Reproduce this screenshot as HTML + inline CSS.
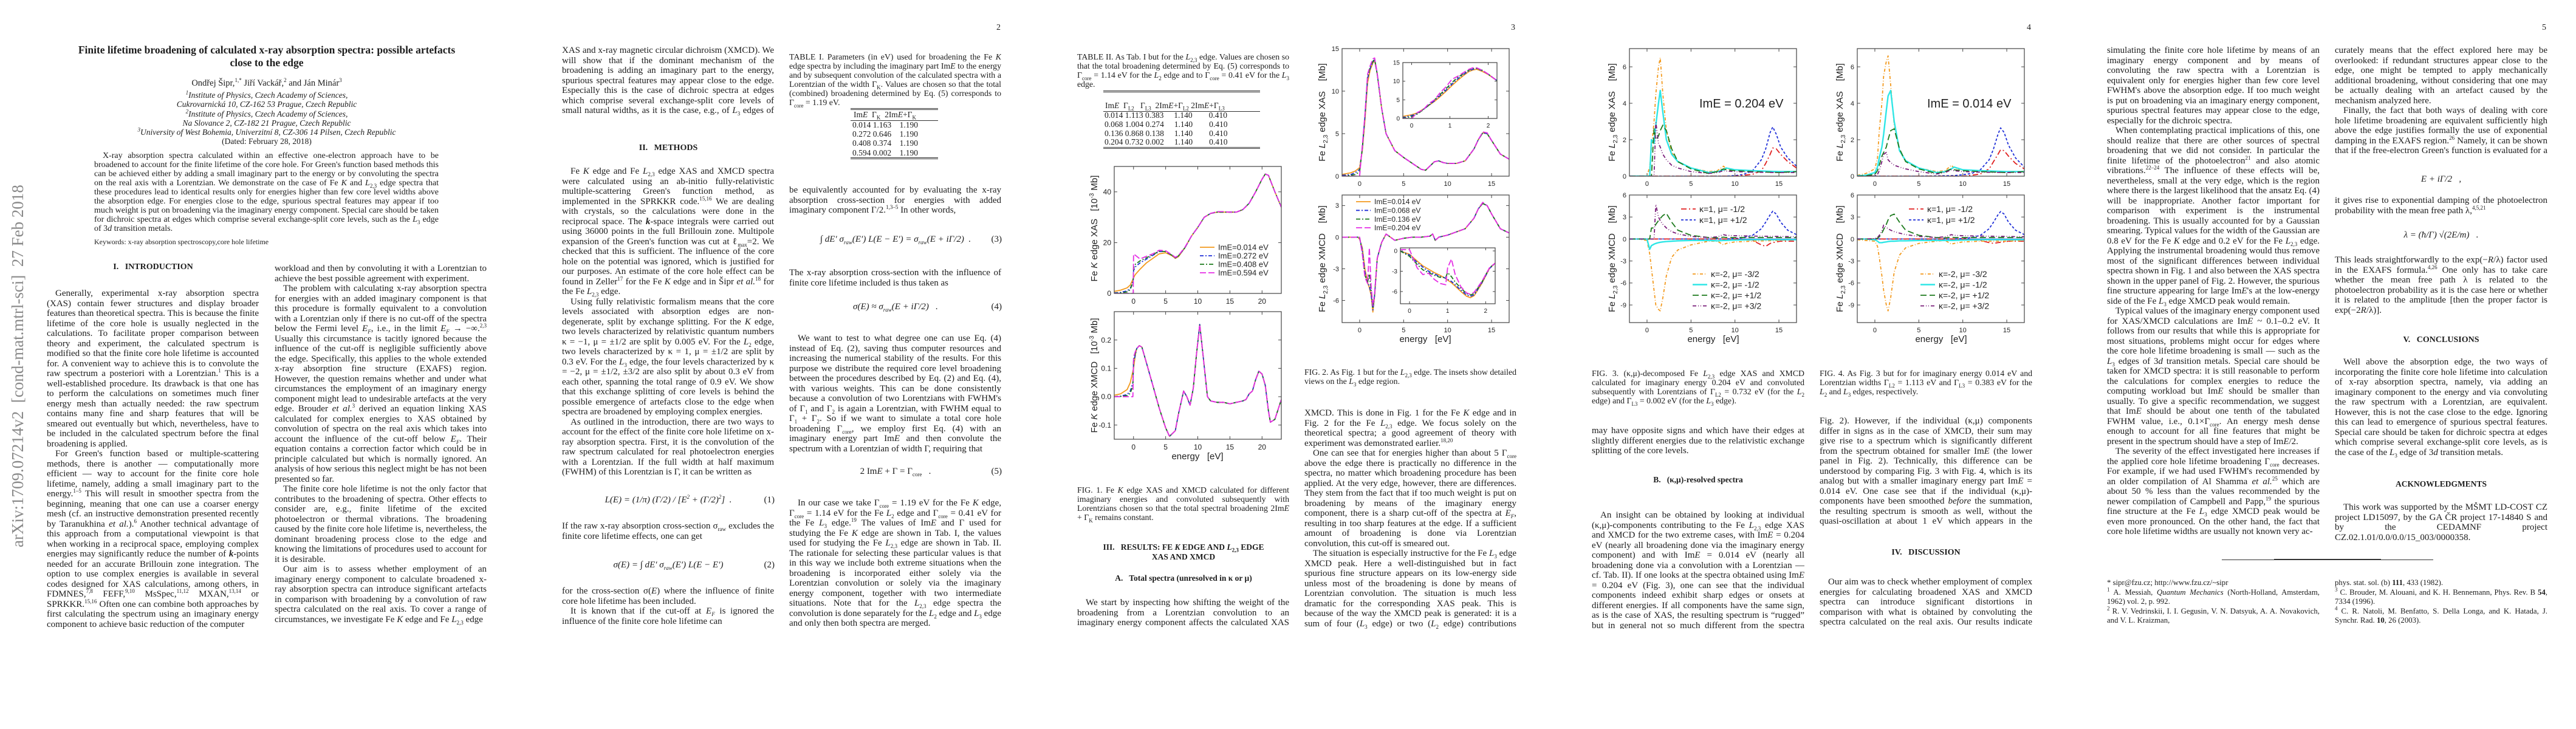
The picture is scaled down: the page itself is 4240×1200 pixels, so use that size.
<!DOCTYPE html>
<html lang="en"><head><meta charset="utf-8">
<style>
html,body{margin:0;padding:0;background:#fff;}
body{width:4240px;height:1200px;position:relative;overflow:hidden;font-family:"Liberation Serif",serif;color:#1c1c1c;}
.a{position:absolute;}
.t{position:absolute;font-size:15px;line-height:16.5px;text-align:justify;hyphens:auto;overflow:hidden;}
.t p{margin:0;text-indent:14px;}
.t p.ni{text-indent:0;}
.cap{position:absolute;font-size:13.8px;line-height:15px;text-align:justify;hyphens:auto;overflow:hidden;}
.h{position:absolute;font-weight:bold;font-size:14px;text-align:center;width:350px;}
.pn{position:absolute;top:38px;font-size:14px;}
.eq{position:absolute;width:350px;font-size:15px;text-align:center;font-style:italic;}
.eqn{position:absolute;right:0;font-style:normal;}
sup{font-size:9px;line-height:0;}
sub{font-size:9px;line-height:0;}
.tbl{position:absolute;font-size:13.5px;}
.dr{position:absolute;height:1px;border-top:1px solid #333;border-bottom:1px solid #333;}
.sr{position:absolute;height:0;border-top:1px solid #333;}
.row{position:absolute;white-space:pre;}
svg text{font-family:"Liberation Sans",sans-serif;fill:#222;}
</style></head><body>

<!-- PAGE 1 -->
<div class="a" style="left:14px;top:290px;width:40px;height:625px;writing-mode:vertical-rl;transform:rotate(180deg);font-size:27px;color:#8a8a8a;white-space:nowrap;text-align:center;">arXiv:1709.07214v2&nbsp; [cond-mat.mtrl-sci]&nbsp; 27 Feb 2018</div>
<div class="a" style="left:39px;top:72px;width:800px;text-align:center;font-weight:bold;font-size:17.5px;line-height:21px;">Finite lifetime broadening of calculated x-ray absorption spectra: possible artefacts<br>close to the edge</div>
<div class="a" style="left:39px;top:129px;width:800px;text-align:center;font-size:14.5px;">Ondřej Šipr,<sup>1,*</sup> Jiří Vackář,<sup>2</sup> and Ján Minár<sup>3</sup></div>
<div class="a" style="left:39px;top:149px;width:800px;text-align:center;font-size:13.5px;line-height:15.3px;font-style:italic;"><sup>1</sup>Institute of Physics, Czech Academy of Sciences,<br>Cukrovarnická 10, CZ-162 53 Prague, Czech Republic<br><sup>2</sup>Institute of Physics, Czech Academy of Sciences,<br>Na Slovance 2, CZ-182 21 Prague, Czech Republic<br><sup>3</sup>University of West Bohemia, Univerzitní 8, CZ-306 14 Pilsen, Czech Republic<br><span style="font-style:normal">(Dated: February 28, 2018)</span></div>
<div class="a" style="left:155px;top:249px;width:567px;height:136px;font-size:14px;line-height:15px;text-align:justify;text-indent:14px;overflow:hidden;">X-ray absorption spectra calculated within an effective one-electron approach have to be broadened to account for the finite lifetime of the core hole. For Green's function based methods this can be achieved either by adding a small imaginary part to the energy or by convoluting the spectra on the real axis with a Lorentzian. We demonstrate on the case of Fe <i>K</i> and <i>L</i><sub>2,3</sub> edge spectra that these procedures lead to identical results only for energies higher than few core level widths above the absorption edge. For energies close to the edge, spurious spectral features may appear if too much weight is put on broadening via the imaginary energy component. Special care should be taken for dichroic spectra at edges which comprise several exchange-split core levels, such as the <i>L</i><sub>3</sub> edge of 3<i>d</i> transition metals.</div>
<div class="a" style="left:155px;top:391px;font-size:12px;">Keywords: x-ray absorption spectroscopy,core hole lifetime</div>
<div class="h" style="left:77px;top:432px;">I.&nbsp;&nbsp; INTRODUCTION</div>
<div class="t" style="left:77px;top:475px;width:349px;height:561px;">
<p>Generally, experimental x-ray absorption spectra (XAS) contain fewer structures and display broader features than theoretical spectra. This is because the finite lifetime of the core hole is usually neglected in the calculations. To facilitate proper comparison between theory and experiment, the calculated spectrum is modified so that the finite core hole lifetime is accounted for. A convenient way to achieve this is to convolute the raw spectrum a posteriori with a Lorentzian.<sup>1</sup> This is a well-established procedure. Its drawback is that one has to perform the calculations on sometimes much finer energy mesh than actually needed: the raw spectrum contains many fine and sharp features that will be smeared out eventually but which, nevertheless, have to be included in the calculated spectrum before the final broadening is applied.</p>
<p>For Green's function based or multiple-scattering methods, there is another — computationally more efficient — way to account for the finite core hole lifetime, namely, adding a small imaginary part to the energy.<sup>1–5</sup> This will result in smoother spectra from the beginning, meaning that one can use a coarser energy mesh (cf. an instructive demonstration presented recently by Taranukhina <i>et al.</i>).<sup>6</sup> Another technical advantage of this approach from a computational viewpoint is that when working in a reciprocal space, employing complex energies may significantly reduce the number of <b><i>k</i></b>-points needed for an accurate Brillouin zone integration. The option to use complex energies is available in several codes designed for XAS calculations, among others, in FDMNES,<sup>7,8</sup> FEFF,<sup>9,10</sup> MsSpec,<sup>11,12</sup> MXAN,<sup>13,14</sup> or SPRKKR.<sup>15,16</sup> Often one can combine both approaches by first calculating the spectrum using an imaginary energy component to achieve basic reduction of the computer</p></div>
<div class="t" style="left:452px;top:434px;width:349px;height:611px;">
<p class="ni">workload and then by convoluting it with a Lorentzian to achieve the best possible agreement with experiment.</p>
<p>The problem with calculating x-ray absorption spectra for energies with an added imaginary component is that this procedure is formally equivalent to a convolution with a Lorentzian only if there is no cut-off of the spectra below the Fermi level <i>E<sub>F</sub></i>, i.e., in the limit <i>E<sub>F</sub></i> → −∞.<sup>2,3</sup> Usually this circumstance is tacitly ignored because the influence of the cut-off is negligible sufficiently above the edge. Specifically, this applies to the whole extended x-ray absorption fine structure (EXAFS) region. However, the question remains whether and under what circumstances the employment of an imaginary energy component might lead to undesirable artefacts at the very edge. Brouder <i>et al.</i><sup>3</sup> derived an equation linking XAS calculated for complex energies to XAS obtained by convolution of spectra on the real axis which takes into account the influence of the cut-off below <i>E<sub>F</sub></i>. Their equation contains a correction factor which could be in principle calculated but which is normally ignored. An analysis of how serious this neglect might be has not been presented so far.</p>
<p>The finite core hole lifetime is not the only factor that contributes to the broadening of spectra. Other effects to consider are, e.g., finite lifetime of the excited photoelectron or thermal vibrations. The broadening caused by the finite core hole lifetime is, nevertheless, the dominant broadening process close to the edge and knowing the limitations of procedures used to account for it is desirable.</p>
<p>Our aim is to assess whether employment of an imaginary energy component to calculate broadened x-ray absorption spectra can introduce significant artefacts in comparison with broadening by a convolution of raw spectra calculated on the real axis. To cover a range of circumstances, we investigate Fe <i>K</i> edge and Fe <i>L</i><sub>2,3</sub> edge</p></div>

<!-- PAGE 2 -->
<div class="pn" style="left:1640px;">2</div>
<div class="t" style="left:925px;top:75px;width:349px;height:116px;">
<p class="ni">XAS and x-ray magnetic circular dichroism (XMCD). We will show that if the dominant mechanism of the broadening is adding an imaginary part to the energy, spurious spectral features may appear close to the edge. Especially this is the case of dichroic spectra at edges which comprise several exchange-split core levels of small natural widths, as it is the case, e.g., of <i>L</i><sub>3</sub> edges of 3<i>d</i> transition metals.</p></div>
<div class="h" style="left:925px;top:236px;">II.&nbsp;&nbsp; METHODS</div>
<div class="t" style="left:925px;top:274px;width:349px;height:512px;">
<p>Fe <i>K</i> edge and Fe <i>L</i><sub>2,3</sub> edge XAS and XMCD spectra were calculated using an ab-initio fully-relativistic multiple-scattering Green's function method, as implemented in the SPRKKR code.<sup>15,16</sup> We are dealing with crystals, so the calculations were done in the reciprocal space. The <b><i>k</i></b>-space integrals were carried out using 36000 points in the full Brillouin zone. Multipole expansion of the Green's function was cut at ℓ<sub>max</sub>=2. We checked that this is sufficient. The influence of the core hole on the potential was ignored, which is justified for our purposes. An estimate of the core hole effect can be found in Zeller<sup>17</sup> for the Fe <i>K</i> edge and in Šipr <i>et al.</i><sup>18</sup> for the Fe <i>L</i><sub>2,3</sub> edge.</p>
<p>Using fully relativistic formalism means that the core levels associated with absorption edges are non-degenerate, split by exchange splitting. For the <i>K</i> edge, two levels characterized by relativistic quantum numbers κ = −1, μ = ±1/2 are split by 0.005 eV. For the <i>L</i><sub>2</sub> edge, two levels characterized by κ = 1, μ = ±1/2 are split by 0.3 eV. For the <i>L</i><sub>3</sub> edge, the four levels characterized by κ = −2, μ = ±1/2, ±3/2 are also split by about 0.3 eV from each other, spanning the total range of 0.9 eV. We show that this exchange splitting of core levels is behind the possible emergence of artefacts close to the edge when spectra are broadened by employing complex energies.</p>
<p>As outlined in the introduction, there are two ways to account for the effect of the finite core hole lifetime on x-ray absorption spectra. First, it is the convolution of the raw spectrum calculated for real photoelectron energies with a Lorentzian. If the full width at half maximum (FWHM) of this Lorentzian is Γ, it can be written as</p></div>
<div class="eq" style="left:925px;top:815px;"><i>L</i>(<i>E</i>) = (1/π) (Γ/2) / [<i>E</i><sup>2</sup> + (Γ/2)<sup>2</sup>]&nbsp;&nbsp;. <span class="eqn">(1)</span></div>
<div class="t" style="left:925px;top:858px;width:349px;height:33px;">
<p class="ni">If the raw x-ray absorption cross-section σ<sub>raw</sub> excludes the finite core lifetime effects, one can get</p></div>
<div class="eq" style="left:925px;top:922px;">σ(<i>E</i>) = ∫ d<i>E</i>′ σ<sub>raw</sub>(<i>E</i>′) <i>L</i>(<i>E</i> − <i>E</i>′) <span class="eqn">(2)</span></div>
<div class="t" style="left:925px;top:965px;width:349px;height:67px;">
<p class="ni">for the cross-section σ(<i>E</i>) where the influence of finite core hole lifetime has been included.</p>
<p>It is known that if the cut-off at <i>E<sub>F</sub></i> is ignored the influence of the finite core hole lifetime can</p></div>

<div class="cap" style="left:1299px;top:86px;width:349px;height:92px;">TABLE I. Parameters (in eV) used for broadening the Fe <i>K</i> edge spectra by including the imaginary part Im<i>E</i> to the energy and by subsequent convolution of the calculated spectra with a Lorentzian of the width Γ<sub>K</sub>. Values are chosen so that the total (combined) broadening determined by Eq. (5) corresponds to Γ<sub>core</sub> = 1.19 eV.</div>
<div class="tbl" style="left:1400px;top:0;">
<div class="dr" style="left:0;top:178px;width:144px;"></div>
<div class="row" style="left:5px;top:181px;">Im<i>E</i>  Γ<sub>K</sub>  2Im<i>E</i>+Γ<sub>K</sub></div>
<div class="sr" style="left:0;top:198px;width:144px;"></div>
<div class="row" style="left:3px;top:198px;line-height:15.2px;">0.014 1.163    1.190
0.272 0.646    1.190
0.408 0.374    1.190
0.594 0.002    1.190</div>
<div class="dr" style="left:0;top:259px;width:144px;"></div></div>
<div class="t" style="left:1299px;top:305px;width:349px;height:50px;">
<p class="ni">be equivalently accounted for by evaluating the x-ray absorption cross-section for energies with added imaginary component Γ/2.<sup>1,3–5</sup> In other words,</p></div>
<div class="eq" style="left:1299px;top:386px;">∫ d<i>E</i>′ σ<sub>raw</sub>(<i>E</i>′) <i>L</i>(<i>E</i> − <i>E</i>′) = σ<sub>raw</sub>(<i>E</i> + iΓ/2)&nbsp; . <span class="eqn">(3)</span></div>
<div class="t" style="left:1299px;top:441px;width:349px;height:33px;">
<p class="ni">The x-ray absorption cross-section with the influence of finite core lifetime included is thus taken as</p></div>
<div class="eq" style="left:1299px;top:497px;">σ(<i>E</i>) ≈ σ<sub>raw</sub>(<i>E</i> + iΓ/2)&nbsp;&nbsp; . <span class="eqn">(4)</span></div>
<div class="t" style="left:1299px;top:549px;width:349px;height:198px;">
<p>We want to test to what degree one can use Eq. (4) instead of Eq. (2), saving thus computer resources and increasing the numerical stability of the results. For this purpose we distribute the required core level broadening between the procedures described by Eq. (2) and Eq. (4), with various weights. This can be done consistently because a convolution of two Lorentzians with FWHM's of Γ<sub>1</sub> and Γ<sub>2</sub> is again a Lorentzian, with FWHM equal to Γ<sub>1</sub> + Γ<sub>2</sub>. So if we want to simulate a total core hole broadening Γ<sub>core</sub>, we employ first Eq. (4) with an imaginary energy part Im<i>E</i> and then convolute the spectrum with a Lorentzian of width Γ, requiring that</p></div>
<div class="eq" style="left:1299px;top:768px;font-style:normal;">2 Im<i>E</i> + Γ = Γ<sub>core</sub>&nbsp;&nbsp; . <span class="eqn">(5)</span></div>
<div class="t" style="left:1299px;top:820px;width:349px;height:215px;">
<p>In our case we take Γ<sub>core</sub> = 1.19 eV for the Fe <i>K</i> edge, Γ<sub>core</sub> = 1.14 eV for the Fe <i>L</i><sub>2</sub> edge and Γ<sub>core</sub> = 0.41 eV for the Fe <i>L</i><sub>3</sub> edge.<sup>19</sup> The values of Im<i>E</i> and Γ used for studying the Fe <i>K</i> edge are shown in Tab. I, the values used for studying the Fe <i>L</i><sub>2,3</sub> edge are shown in Tab. II. The rationale for selecting these particular values is that in this way we include both extreme situations when the broadening is incorporated either solely via the Lorentzian convolution or solely via the imaginary energy component, together with two intermediate situations. Note that for the <i>L</i><sub>2,3</sub> edge spectra the convolution is done separately for the <i>L</i><sub>2</sub> edge and <i>L</i><sub>3</sub> edge and only then both spectra are merged.</p></div>

<!-- PAGE 3 -->
<div class="pn" style="left:2487px;">3</div>
<div class="cap" style="left:1773px;top:86px;width:349px;height:62px;">TABLE II. As Tab. I but for the <i>L</i><sub>2,3</sub> edge. Values are chosen so that the total broadening determined by Eq. (5) corresponds to Γ<sub>core</sub> = 1.14 eV for the <i>L</i><sub>2</sub> edge and to Γ<sub>core</sub> = 0.41 eV for the <i>L</i><sub>3</sub> edge.</div>
<div class="tbl" style="left:1816px;top:0;">
<div class="dr" style="left:0;top:149px;width:258px;"></div>
<div class="row" style="left:3px;top:166px;">Im<i>E</i>  Γ<sub>L2</sub>   Γ<sub>L3</sub>  2Im<i>E</i>+Γ<sub>L2</sub> 2Im<i>E</i>+Γ<sub>L3</sub></div>
<div class="sr" style="left:0;top:183px;width:258px;"></div>
<div class="row" style="left:2px;top:183px;line-height:14.8px;">0.014 1.113 0.383     1.140        0.410
0.068 1.004 0.274     1.140        0.410
0.136 0.868 0.138     1.140        0.410
0.204 0.732 0.002     1.140        0.410</div>
<div class="dr" style="left:0;top:242px;width:258px;"></div></div>
<div class="cap" style="left:1773px;top:799px;width:349px;height:62px;">FIG. 1. Fe <i>K</i> edge XAS and XMCD calculated for different imaginary energies and convoluted subsequently with Lorentzians chosen so that the total spectral broadening 2Im<i>E</i> + Γ<sub>K</sub> remains constant.</div>
<div class="h" style="left:1773px;top:893px;font-size:13.5px;line-height:16px;">III.&nbsp;&nbsp; RESULTS: FE <i>K</i> EDGE AND <i>L</i><sub>2,3</sub> EDGE<br>XAS AND XMCD</div>
<div class="h" style="left:1773px;top:944px;font-size:13.5px;">A.&nbsp;&nbsp; Total spectra (unresolved in κ or μ)</div>
<div class="t" style="left:1773px;top:984px;width:349px;height:50px;">
<p>We start by inspecting how shifting the weight of the broadening from a Lorentzian convolution to an imaginary energy component affects the calculated XAS and</p></div>
<div class="cap" style="left:2147px;top:605px;width:349px;height:31px;">FIG. 2. As Fig. 1 but for the <i>L</i><sub>2,3</sub> edge. The insets show detailed views on the <i>L</i><sub>3</sub> edge region.</div>
<div class="t" style="left:2147px;top:672px;width:349px;height:363px;">
<p class="ni">XMCD. This is done in Fig. 1 for the Fe <i>K</i> edge and in Fig. 2 for the Fe <i>L</i><sub>2,3</sub> edge. We focus solely on the theoretical spectra; a good agreement of theory with experiment was demonstrated earlier.<sup>18,20</sup></p>
<p>One can see that for energies higher than about 5 Γ<sub>core</sub> above the edge there is practically no difference in the spectra, no matter which broadening procedure has been applied. At the very edge, however, there are differences. They stem from the fact that if too much weight is put on broadening by means of the imaginary energy component, there is a sharp cut-off of the spectra at <i>E<sub>F</sub></i>, resulting in too sharp features at the edge. If a sufficient amount of broadening is done via Lorentzian convolution, this cut-off is smeared out.</p>
<p>The situation is especially instructive for the Fe <i>L</i><sub>3</sub> edge XMCD peak. Here a well-distinguished but in fact spurious fine structure appears on its low-energy side unless most of the broadening is done by means of Lorentzian convolution. The situation is much less dramatic for the corresponding XAS peak. This is because of the way the XMCD peak is generated: it is a sum of four (<i>L</i><sub>3</sub> edge) or two (<i>L</i><sub>2</sub> edge) contributions which</p></div>

<!-- PAGE 4 -->
<div class="pn" style="left:3336px;">4</div>
<div class="cap" style="left:2620px;top:607px;width:350px;height:62px;">FIG. 3. (κ,μ)-decomposed Fe <i>L</i><sub>2,3</sub> edge XAS and XMCD calculated for imaginary energy 0.204 eV and convoluted subsequently with Lorentzians of Γ<sub>L2</sub> = 0.732 eV (for the <i>L</i><sub>2</sub> edge) and Γ<sub>L3</sub> = 0.002 eV (for the <i>L</i><sub>3</sub> edge).</div>
<div class="t" style="left:2620px;top:701px;width:350px;height:50px;">
<p class="ni">may have opposite signs and which have their edges at slightly different energies due to the relativistic exchange splitting of the core levels.</p></div>
<div class="h" style="left:2620px;top:782px;font-size:13.5px;">B.&nbsp;&nbsp; (κ,μ)-resolved spectra</div>
<div class="t" style="left:2620px;top:840px;width:350px;height:195px;">
<p>An insight can be obtained by looking at individual (κ,μ)-components contributing to the Fe <i>L</i><sub>2,3</sub> edge XAS and XMCD for the two extreme cases, with Im<i>E</i> = 0.204 eV (nearly all broadening done via the imaginary energy component) and with Im<i>E</i> = 0.014 eV (nearly all broadening done via a convolution with a Lorentzian — cf. Tab. II). If one looks at the spectra obtained using Im<i>E</i> = 0.204 eV (Fig. 3), one can see that the individual components indeed exhibit sharp edges or onsets at different energies. If all components have the same sign, as is the case of XAS, the resulting spectrum is “rugged” but in general not so much different from the spectra obtained for smaller Im<i>E</i> (see the upper panel in</p></div>
<div class="cap" style="left:2995px;top:607px;width:350px;height:47px;">FIG. 4. As Fig. 3 but for for imaginary energy 0.014 eV and Lorentzian widths Γ<sub>L2</sub> = 1.113 eV and Γ<sub>L3</sub> = 0.383 eV for the <i>L</i><sub>2</sub> and <i>L</i><sub>3</sub> edges, respectively.</div>
<div class="t" style="left:2995px;top:685px;width:350px;height:182px;">
<p class="ni">Fig. 2). However, if the individual (κ,μ) components differ in signs as in the case of XMCD, their sum may give rise to a spectrum which is significantly different from the spectrum obtained for smaller Im<i>E</i> (the lower panel in Fig. 2). Technically, this difference can be understood by comparing Fig. 3 with Fig. 4, which is its analog but with a smaller imaginary energy part Im<i>E</i> = 0.014 eV. One case see that if the individual (κ,μ)-components have been smoothed <i>before</i> the summation, the resulting spectrum is smooth as well, without the quasi-oscillation at about 1 eV which appears in the XMCD spectrum for larger Im<i>E</i>'s (cf. Fig. 2).</p></div>
<div class="h" style="left:2995px;top:902px;">IV.&nbsp;&nbsp; DISCUSSION</div>
<div class="t" style="left:2995px;top:950px;width:350px;height:85px;">
<p>Our aim was to check whether employment of complex energies for calculating broadened XAS and XMCD spectra can introduce significant distortions in comparison with what is obtained by convoluting the spectra calculated on the real axis. Our results indicate that</p></div>

<!-- PAGE 5 -->
<div class="pn" style="left:4184px;">5</div>
<div class="t" style="left:3468px;top:75px;width:350px;height:819px;">
<p class="ni">simulating the finite core hole lifetime by means of an imaginary energy component and by means of convoluting the raw spectra with a Lorentzian is equivalent only for energies higher than few core level FWHM's above the absorption edge. If too much weight is put on broadening via an imaginary energy component, spurious spectral features may appear close to the edge, especially for the dichroic spectra.</p>
<p>When contemplating practical implications of this, one should realize that there are other sources of spectral broadening that we did not consider. In particular the finite lifetime of the photoelectron<sup>21</sup> and also atomic vibrations.<sup>22–24</sup> The influence of these effects will be, nevertheless, small at the very edge, which is the region where there is the largest likelihood that the ansatz Eq. (4) will be inappropriate. Another factor important for comparison with experiment is the instrumental broadening. This is usually accounted for by a Gaussian smearing. Typical values for the width of the Gaussian are 0.8 eV for the Fe <i>K</i> edge and 0.2 eV for the Fe <i>L</i><sub>2,3</sub> edge. Applying the instrumental broadening would thus remove most of the significant differences between individual spectra shown in Fig. 1 and also between the XAS spectra shown in the upper panel of Fig. 2. However, the spurious fine structure appearing for large Im<i>E</i>'s at the low-energy side of the Fe <i>L</i><sub>3</sub> edge XMCD peak would remain.</p>
<p>Typical values of the imaginary energy component used for XAS/XMCD calculations are Im<i>E</i> ~ 0.1–0.2 eV. It follows from our results that while this is appropriate for most situations, problems might occur for edges where the core hole lifetime broadening is small — such as the <i>L</i><sub>3</sub> edges of 3<i>d</i> transition metals. Special care should be taken for XMCD spectra: it is still reasonable to perform the calculations for complex energies to reduce the computing workload but Im<i>E</i> should be smaller than usually. To give a specific recommendation, we suggest that Im<i>E</i> should be about one tenth of the tabulated FWHM value, i.e., 0.1×Γ<sub>core</sub>. An energy mesh dense enough to account for all fine features that might be present in the spectrum should have a step of Im<i>E</i>/2.</p>
<p>The severity of the effect investigated here increases if the applied core hole lifetime broadening Γ<sub>core</sub> decreases. For example, if we had used FWHM's recommended by an older compilation of Al Shamma <i>et al.</i><sup>25</sup> which are about 50 % less than the values recommended by the newer compilation of Campbell and Papp,<sup>19</sup> the spurious fine structure at the Fe <i>L</i><sub>3</sub> edge XMCD peak would be even more pronounced. On the other hand, the fact that core hole lifetime widths are usually not known very ac-</p></div>
<div class="t" style="left:3843px;top:75px;width:350px;height:182px;">
<p class="ni">curately means that the effect explored here may be overlooked: if redundant structures appear close to the edge, one might be tempted to apply mechanically additional broadening, without considering that one may be actually dealing with an artefact caused by the mechanism analyzed here.</p>
<p>Finally, the fact that both ways of dealing with core hole lifetime broadening are equivalent sufficiently high above the edge justifies formally the use of exponential damping in the EXAFS region.<sup>26</sup> Namely, it can be shown that if the free-electron Green's function is evaluated for a complex energy</p></div>
<div class="eq" style="left:3843px;top:287px;"><i>E</i> + iΓ/2&nbsp;&nbsp; ,</div>
<div class="t" style="left:3843px;top:322px;width:350px;height:33px;">
<p class="ni">it gives rise to exponential damping of the photoelectron probability with the mean free path λ,<sup>4,5,21</sup></p></div>
<div class="eq" style="left:3843px;top:379px;">λ = (ħ/Γ) √(2<i>E</i>/<i>m</i>)&nbsp;&nbsp; .</div>
<div class="t" style="left:3843px;top:420px;width:350px;height:100px;">
<p class="ni">This leads straightforwardly to the exp(−<i>R</i>/λ) factor used in the EXAFS formula.<sup>4,26</sup> One only has to take care whether the mean free path λ is related to the photoelectron probability as it is the case here or whether it is related to the amplitude [then the proper factor is exp(−2<i>R</i>/λ)].</p></div>
<div class="h" style="left:3843px;top:552px;">V.&nbsp;&nbsp; CONCLUSIONS</div>
<div class="t" style="left:3843px;top:588px;width:350px;height:166px;">
<p>Well above the absorption edge, the two ways of incorporating the finite core hole lifetime into calculation of x-ray absorption spectra, namely, via adding an imaginary component to the energy and via convoluting the raw spectrum with a Lorentzian, are equivalent. However, this is not the case close to the edge. Ignoring this can lead to emergence of spurious spectral features. Special care should be taken for dichroic spectra at edges which comprise several exchange-split core levels, as is the case of the <i>L</i><sub>3</sub> edge of 3<i>d</i> transition metals.</p></div>
<div class="h" style="left:3843px;top:789px;font-size:13.5px;">ACKNOWLEDGMENTS</div>
<div class="t" style="left:3843px;top:827px;width:350px;height:67px;">
<p>This work was supported by the MŠMT LD-COST CZ project LD15097, by the GA ČR project 17-14840 S and by the CEDAMNF project CZ.02.1.01/0.0/0.0/15_003/0000358.</p></div>
<div class="a" style="left:3657px;top:921px;width:348px;border-top:1px solid #333;"></div>
<div class="a" style="left:3743px;top:920px;width:176px;border-top:2px solid #333;"></div>
<div class="cap" style="left:3468px;top:952px;width:350px;height:80px;font-size:12.8px;line-height:15.5px;">* sipr@fzu.cz; http://www.fzu.cz/~sipr<br><sup>1</sup> A. Messiah, <i>Quantum Mechanics</i> (North-Holland, Amsterdam, 1962) vol. 2, p. 992.<br><sup>2</sup> R. V. Vedrinskii, I. I. Gegusin, V. N. Datsyuk, A. A. Novakovich, and V. L. Kraizman,</div>
<div class="cap" style="left:3843px;top:952px;width:350px;height:80px;font-size:12.8px;line-height:15.5px;">phys. stat. sol. (b) <b>111</b>, 433 (1982).<br><sup>3</sup> C. Brouder, M. Alouani, and K. H. Bennemann, Phys. Rev. B <b>54</b>, 7334 (1996).<br><sup>4</sup> C. R. Natoli, M. Benfatto, S. Della Longa, and K. Hatada, J. Synchr. Rad. <b>10</b>, 26 (2003).</div>

<svg id="figs" class="a" style="left:0;top:0" width="4240" height="1200"></svg>

<script>
// ---------- Fig 1: Fe K edge ----------
const k_xas_E = [-3,-2,-1,-0.5,-0.05,0.01,0.3,1,2,3,4,5,6,6.5,7,8,9,10,11,12,13,14,15,16,17,18,19,20,20.5,21,22,23];
const k_xas_014 = [0.8,1.3,2.2,3.3,5.8,6.2,7.5,9.5,12,13.8,15.6,16,14.8,13.8,14.5,18,22.5,26,30,31.5,32,32,32,32,33,35.5,40,45,47,46.5,40,34];
const k_xas_272 = [0.2,0.4,1,2,4.8,9,10.5,12,13.5,15,16.5,16.5,15,14,14.8,18,22.5,26,30,31.5,32,32,32,32,33,35.5,40,45,47,46.5,40,34];
const k_xas_408 = [0.1,0.2,0.6,1.5,4.8,10,11.5,12.8,14,15.3,16.6,16.5,15,14,14.8,18,22.5,26,30,31.5,32,32,32,32,33,35.5,40,45,47,46.5,40,34];
const k_xas_594 = [0,0,0,0,0,15.5,15,13.6,14.6,15.6,17,16.8,15.2,14.2,15,18.2,22.5,26,30,31.5,32.2,32.2,32,32,33,35.5,40,45,47,46.5,40,34];
const k_mcd_E = [-3,-2,-1,-0.5,-0.1,0.01,0.3,0.5,0.9,1.3,2,3,4,5,5.6,6.5,7,7.8,8.3,8.8,9.3,9.8,10.3,10.8,11.5,12,13,14,15,16,17,17.5,18,18.5,19,19.5,20,20.5,21,21.3,22,23];
const k_mcd_014 = [0.005,0.01,0.025,0.05,0.09,0.1,0.15,0.17,0.18,0.175,0.12,0.04,-0.04,-0.11,-0.14,-0.12,-0.06,0.02,0.0,-0.03,0.03,0.15,0.255,0.15,0.0,-0.015,-0.02,-0.02,-0.025,-0.02,-0.015,-0.01,0.01,0.02,0.06,0.09,0.08,0.04,-0.05,-0.09,-0.08,-0.01];
const k_mcd_272 = [0,0.002,0.008,0.02,0.05,0.12,0.15,0.17,0.18,0.175,0.12,0.04,-0.04,-0.11,-0.14,-0.12,-0.06,0.02,0.0,-0.03,0.03,0.15,0.255,0.15,0.0,-0.015,-0.02,-0.02,-0.025,-0.02,-0.015,-0.01,0.01,0.02,0.06,0.09,0.08,0.04,-0.05,-0.09,-0.08,-0.01];
const k_mcd_408 = [0,0.001,0.004,0.012,0.04,0.13,0.155,0.17,0.18,0.175,0.12,0.04,-0.04,-0.11,-0.14,-0.12,-0.06,0.02,0.0,-0.03,0.03,0.15,0.255,0.15,0.0,-0.015,-0.02,-0.02,-0.025,-0.02,-0.015,-0.01,0.01,0.02,0.06,0.09,0.08,0.04,-0.05,-0.09,-0.08,-0.01];
const k_mcd_594 = [0,0,0,0,0,0.14,0.16,0.17,0.18,0.175,0.12,0.04,-0.04,-0.11,-0.14,-0.12,-0.06,0.02,0.0,-0.03,0.03,0.15,0.255,0.15,0.0,-0.015,-0.02,-0.02,-0.025,-0.02,-0.015,-0.01,0.01,0.02,0.06,0.09,0.08,0.04,-0.05,-0.09,-0.08,-0.01];
const k_legend = ["ImE=0.014 eV","ImE=0.272 eV","ImE=0.408 eV","ImE=0.594 eV"];

// ---------- Fig 2: Fe L2,3 edge ----------
const l_xas_E = [-2,-1,-0.5,0,0.3,0.6,0.9,1.2,1.5,1.7,2,2.5,3,4,5,6,7,7.5,8,8.5,9,9.5,10,11,12,13,13.5,14,14.5,15,16,17];
const l_xas_014 = [0.2,0.4,0.6,1,3,6.5,11,12.5,13.3,13.6,12,8,5,3,2.2,1.5,0.8,0.7,1.2,1.7,1.8,1.6,1.5,1.5,1.8,3.2,4.3,5.1,5,4.2,2.6,2];
const l_xas_068 = [0.1,0.2,0.4,0.8,3.2,7,11.5,12.7,13.4,13.7,12,8,5,3,2.2,1.5,0.8,0.7,1.2,1.7,1.8,1.6,1.5,1.5,1.8,3.2,4.3,5.1,5,4.2,2.6,2];
const l_xas_136 = [0,0.1,0.2,0.5,3.3,7,11.8,12.8,13.5,13.8,12,8,5,3,2.2,1.5,0.8,0.7,1.2,1.7,1.8,1.6,1.5,1.5,1.8,3.2,4.3,5.1,5,4.2,2.6,2];
const l_xas_204 = [0,0,0,0,3.6,7.2,12,13,13.8,13.9,12.1,8,5,3,2.2,1.5,0.8,0.7,1.2,1.7,1.8,1.6,1.5,1.5,1.8,3.2,4.3,5.2,5.1,4.2,2.6,2];
const l_in_xas_E = [-0.25,0,0.15,0.3,0.45,0.6,0.75,0.9,1.05,1.2,1.35,1.5,1.6,1.7,1.85,2,2.25];
const l_in_xas_014 = [0.5,1,1.5,2.5,3.5,4.6,5.9,7.3,8.8,10.2,11.5,12.6,13,13.2,12.6,11.8,10];
const l_in_xas_068 = [0.2,0.8,1.3,2.4,3.5,4.8,6.2,7.6,9.2,10.6,11.8,12.8,13.2,13.4,12.8,11.9,10];
const l_in_xas_136 = [0,0.5,1.2,2.3,3.6,5,6.5,8,9.6,11,12,13,13.4,13.5,12.9,11.9,10];
const l_in_xas_204 = [0,0,1.6,2.3,4,5,7,8.5,10.5,11.3,12.3,13.2,13.6,13.6,12.9,11.9,10];
const l_mcd_E = [-2,-1,-0.2,0,0.3,0.6,0.9,1.1,1.3,1.5,1.7,2,2.5,3,4,5,6,7,8,8.3,8.6,9,10,12,13,13.5,14,14.5,15,16,17];
const l_mcd_014 = [0,0,0,-0.2,-1,-3,-4.3,-4.8,-5.5,-7.1,-5.5,-2,-0.5,0.3,-0.3,-0.1,0,0,0.1,0.3,-0.3,0,0.2,0.8,1.8,2.7,3.2,3,2.2,0.8,0.4];
const l_mcd_068 = [0,0,0,-0.1,-1.2,-3.3,-4.4,-4.6,-5.4,-6.9,-5.5,-2,-0.5,0.3,-0.3,-0.1,0,0,0.1,0.3,-0.3,0,0.2,0.8,1.8,2.7,3.2,3,2.2,0.8,0.4];
const l_mcd_136 = [0,0,0,0,-1.5,-3.6,-4.3,-3.5,-5,-6.7,-5.4,-2,-0.5,0.3,-0.3,-0.1,0,0,0.1,0.3,-0.3,0,0.2,0.8,1.8,2.7,3.2,3,2.2,0.8,0.4];
const l_mcd_204 = [0,0,0,0,-1.6,-3.8,-4.4,-1,-4.6,-6.5,-5.3,-2,-0.5,0.3,-0.3,-0.1,0,0,0.1,0.3,-0.3,0,0.2,0.8,1.8,2.7,3.3,3,2.2,0.8,0.4];
const l_in_mcd_E = [-0.25,0,0.2,0.35,0.5,0.65,0.8,0.95,1.0,1.1,1.2,1.35,1.5,1.6,1.7,1.9,2.1,2.25];
const l_in_mcd_014 = [0,-0.5,-1.5,-2.2,-2.7,-3.2,-3.6,-4.1,-4.3,-4.7,-5.2,-6,-6.7,-6.9,-6.6,-4.8,-2.6,-1.8];
const l_in_mcd_068 = [0,-0.6,-1.7,-2.4,-3.0,-3.4,-3.8,-4.0,-4.2,-4.5,-5.0,-5.8,-6.5,-6.7,-6.5,-4.7,-2.6,-1.8];
const l_in_mcd_136 = [0,-0.8,-2,-2.8,-3.2,-3.6,-3.9,-3.9,-3.2,-3.8,-4.6,-5.5,-6.3,-6.5,-6.3,-4.6,-2.5,-1.8];
const l_in_mcd_204 = [0.2,0.2,-2.5,-3.5,-3.3,-4.2,-4.8,-5,-2.5,-1.2,-3.5,-5.3,-6.2,-6.4,-6.1,-4.5,-2.5,-1.8];
const l_legend = ["ImE=0.014 eV","ImE=0.068 eV","ImE=0.136 eV","ImE=0.204 eV"];

// ---------- Fig 3 & 4: (kappa,mu)-resolved ----------
const km_E = [-2,-1,0,0.3,0.5,0.8,1,1.3,1.5,1.8,2.2,2.8,3.5,5,7,8,8.7,9,10,12,15,17];
const km_E2 = [-2,5,9,10,11,12,13,13.5,14,14.3,14.7,15.2,16,17];
const f3_xas_m32 = [0,0,0,0.5,1.5,3,4.5,6,6.5,4.5,2.5,1.3,0.8,0.45,0.25,0.3,0.55,0.4,0.35,0.3,0.25,0.25];
const f3_xas_m12 = [0,0,0,0,2,1.8,2.8,4,4.7,3.5,2,1.2,0.8,0.45,0.2,0.25,0.35,0.45,0.35,0.3,0.25,0.25];
const f3_xas_p12 = [0,0,0,0,0,2.6,2,2.2,2.5,2.8,2.5,1.5,0.8,0.4,0.15,0.25,0.4,0.35,0.3,0.25,0.2,0.25];
const f3_xas_p32 = [0,0,0,0,0,0,3,1.8,1.6,1.2,0.9,0.6,0.45,0.25,0.15,0.2,0.3,0.28,0.25,0.22,0.2,0.2];
const f3_xas_k1p = [0,0,0,0.03,0.1,0.3,0.9,1.5,2.4,2.7,2.3,1.6,1,0.55];
const f3_xas_k1m = [0,0,0,0,0.05,0.1,0.3,0.7,1.2,1.55,1.5,1.2,0.8,0.45];
const f3_mcd_m32 = [0,0,-0.2,-2,-4,-7,-9,-9.6,-9.8,-8,-5,-2.5,-1.5,-0.8,-0.3,-0.3,-0.8,-0.6,-0.4,-0.3,-0.2,-0.1];
const f3_mcd_m12 = [0,0,0,-1.4,-0.9,-0.7,-0.6,-0.5,-0.45,-0.4,-0.35,-0.3,-0.25,-0.2,-0.2,-0.25,-0.2,-0.2,-0.15,-0.1,-0.1,-0.1];
const f3_mcd_p12 = [0,0,0,0,1.5,1.5,2,2.5,2.8,3.2,3.5,2.3,1.2,0.5,0.2,0.15,0.25,0.2,0.2,0.2,0.2,0.2];
const f3_mcd_p32 = [0,0,0,0,0,0,4.7,3,2.5,2,1.5,1,0.7,0.35,0.2,0.3,0.6,0.5,0.45,0.4,0.35,0.3];
const f3_mcd_k1p = [0,0,0,0.05,0.2,0.5,1.4,2.3,3.3,3.8,3.4,2.3,1.2,0.6];
const f3_mcd_k1m = [0,0,0,0,-0.05,-0.2,-0.8,-1,-0.6,-0.5,-0.4,-0.3,-0.3,-0.3];
const f4_xas_m32 = [0.05,0.15,0.4,1,2.5,4,5.5,6.3,6.6,5,2.8,1.4,0.8,0.45,0.25,0.3,0.6,0.45,0.35,0.3,0.25,0.25];
const f4_xas_m12 = [0.02,0.05,0.2,0.5,1,1.6,2.3,3.6,4.4,4.7,3,1.4,0.85,0.45,0.2,0.25,0.4,0.5,0.35,0.3,0.25,0.25];
const f4_xas_p12 = [0,0.02,0.1,0.3,0.6,1.1,1.3,1.6,2,2.5,2.6,1.5,0.8,0.4,0.15,0.25,0.4,0.35,0.3,0.25,0.2,0.25];
const f4_xas_p32 = [0,0,0.02,0.1,0.3,0.8,1.2,1.3,0.9,0.75,0.6,0.5,0.4,0.25,0.12,0.2,0.35,0.3,0.25,0.22,0.2,0.2];
const f4_xas_k1p = [0,0,0.03,0.08,0.15,0.35,0.9,1.5,2.3,2.65,2.4,1.7,1,0.5];
const f4_xas_k1m = [0,0,0,0,0.05,0.12,0.4,0.8,1.2,1.45,1.4,1.1,0.7,0.4];
const f4_mcd_m32 = [-0.1,-0.2,-0.3,-1,-2.5,-5,-7,-9,-9.8,-8,-4.5,-2.2,-1.2,-0.6,-0.3,-0.2,-0.7,-0.6,-0.4,-0.3,-0.3,-0.2];
const f4_mcd_m12 = [0,0,-0.1,-0.3,-0.5,-0.5,-0.45,-0.4,-0.35,-0.3,-0.3,-0.25,-0.25,-0.2,-0.2,-0.2,-0.2,-0.2,-0.15,-0.1,-0.1,-0.1];
const f4_mcd_p12 = [0,0,0,0.1,0.3,0.8,1.3,2,2.6,3.2,3.4,2.3,1.2,0.5,0.2,0.15,0.25,0.2,0.2,0.2,0.2,0.2];
const f4_mcd_p32 = [0,0,0.05,0.2,0.5,1.1,1.9,1.6,1.4,1.2,1,0.8,0.6,0.35,0.2,0.3,0.6,0.5,0.45,0.4,0.35,0.3];
const f4_mcd_k1p = [0,0,0,0.05,0.2,0.5,1.4,2.3,3.3,3.75,3.4,2.3,1.2,0.6];
const f4_mcd_k1m = [0,0,0,0,-0.05,-0.2,-0.5,-0.6,-0.5,-0.45,-0.4,-0.3,-0.3,-0.3];
const km_legend_k1 = ["κ=1, μ= -1/2","κ=1, μ= +1/2"];
const km_legend_k2 = ["κ=-2, μ= -3/2","κ=-2, μ= -1/2","κ=-2, μ= +1/2","κ=-2, μ= +3/2"];

const ticks_x_K = [0,5,10,15,20];
const ticks_y_Kxas = [0,20,40];
const ticks_y_Kmcd = [-0.1,0.0,0.1,0.2];
const ticks_x_L = [0,5,10,15];
const ticks_y_Lxas = [0,5,10,15];
const ticks_y_Lmcd = [-6,-3,0,3];
const ticks_x_in = [0,1,2];
const ticks_y_inxas = [0,5,10,15];
const ticks_y_inmcd = [-6,-3,0];
const ticks_y_kmxas = [0,2,4,6];
const ticks_y_kmmcd = [-9,-6,-3,0,3,6];

const NS = 'http://www.w3.org/2000/svg';
const svg = document.getElementById('figs');
let clipN = 0;
function el(tag, attrs, parent){
  const e = document.createElementNS(NS, tag);
  for (const k in attrs) e.setAttribute(k, attrs[k]);
  parent.appendChild(e);
  return e;
}
const C = {orange:'#f39a1e', blue:'#1f2fd8', green:'#1d7a1d', magenta:'#e52ee5', cyan:'#2ee6e6', purple:'#7a1d7a', red:'#e02020'};

function panel(name, box, xd, yd, xt, yt, series, opts){
  opts = opts || {};
  const g = el('g', {}, svg);
  
  
  const sx = v => box[0] + (v - xd[0]) / (xd[1] - xd[0]) * (box[2] - box[0]);
  const sy = v => box[3] - (v - yd[0]) / (yd[1] - yd[0]) * (box[3] - box[1]);
  if (opts.bg) el('rect', {x:box[0], y:box[1], width:box[2]-box[0], height:box[3]-box[1], fill:'#fff'}, g);
  const id = 'clip' + (clipN++);
  const cp = el('clipPath', {id:id}, g);
  el('rect', {x:box[0], y:box[1], width:box[2]-box[0], height:box[3]-box[1]}, cp);
  const fs = opts.fs || 11;
  const tl = opts.tl || 5;
  xt.forEach(v => {
    const x = sx(v);
    const t1 = el('line', {x1:x, x2:x, y1:box[3], y2:box[3]-tl, stroke:'#444', 'stroke-width':1}, g);
    
    el('line', {x1:x, x2:x, y1:box[1], y2:box[1]+tl, stroke:'#444', 'stroke-width':1}, g);
    const lb = el('text', {x:x, y:box[3]+fs+5, 'font-size':fs, 'text-anchor':'middle'}, g);
    
    lb.textContent = String(v);
  });
  yt.forEach(v => {
    const y = sy(v);
    const t2 = el('line', {x1:box[0], x2:box[0]+tl, y1:y, y2:y, stroke:'#444', 'stroke-width':1}, g);
    
    el('line', {x1:box[2], x2:box[2]-tl, y1:y, y2:y, stroke:'#444', 'stroke-width':1}, g);
    const lb = el('text', {x:box[0]-5, y:y+fs*0.35, 'font-size':fs, 'text-anchor':'end'}, g);
    
    lb.textContent = opts.yfmt ? opts.yfmt(v) : String(v);
  });
  const sg = el('g', {'clip-path':'url(#'+id+')'}, g);
  series.forEach(s => {
    const d = s.x.map((xv, i) => (i ? 'L' : 'M') + sx(xv).toFixed(1) + ' ' + sy(s.y[i]).toFixed(1)).join(' ');
    const p = el('path', {d:d, fill:'none', stroke:s.c, 'stroke-width':s.w || 1.8, 'stroke-dasharray':s.dash || 'none', 'stroke-linejoin':'round'}, sg);
    
    
  });
  el('rect', {x:box[0], y:box[1], width:box[2]-box[0], height:box[3]-box[1], fill:'none', stroke:'#444', 'stroke-width':1.2}, g);
  return g;
}
function txt(name, x, y, s, fs, anchor, rot){
  const t = el('text', {x:x, y:y, 'font-size':fs, 'text-anchor':anchor || 'start'}, svg);
  if (rot) t.setAttribute('transform', 'rotate(-90 '+x+' '+y+')');
  
  
  t.innerHTML = s;
  return t;
}
function legend(name, x, y, dy, items, fs){
  items.forEach((it, i) => {
    const yy = y + i*dy;
    const ln = el('line', {x1:x, x2:x+24, y1:yy, y2:yy, stroke:it.c, 'stroke-width':it.w || 1.8, 'stroke-dasharray':it.dash || 'none'}, svg);
    
    txt(name + '-entry', x+30, yy+fs*0.35, it.label, fs);
  });
}

const D = {o:'none', b:'6,3,2,3', g:'7,3,2,3', m:'10,4'};
panel('fig1-xas-panel', [1834,274,2109,483], [-3,23], [0,50], ticks_x_K, ticks_y_Kxas, [
  {x:k_xas_E, y:k_xas_014, c:C.orange, name:'k-xas-ime-0.014'},
  {x:k_xas_E, y:k_xas_272, c:C.blue, dash:D.b, name:'k-xas-ime-0.272'},
  {x:k_xas_E, y:k_xas_408, c:C.green, dash:D.g, name:'k-xas-ime-0.408'},
  {x:k_xas_E, y:k_xas_594, c:C.magenta, dash:D.m, name:'k-xas-ime-0.594'}], {fs:12});
panel('fig1-xmcd-panel', [1834,513,2109,723], [-3,23], [-0.15,0.3], ticks_x_K, ticks_y_Kmcd, [
  {x:k_mcd_E, y:k_mcd_014, c:C.orange, name:'k-xmcd-ime-0.014'},
  {x:k_mcd_E, y:k_mcd_272, c:C.blue, dash:D.b, name:'k-xmcd-ime-0.272'},
  {x:k_mcd_E, y:k_mcd_408, c:C.green, dash:D.g, name:'k-xmcd-ime-0.408'},
  {x:k_mcd_E, y:k_mcd_594, c:C.magenta, dash:D.m, name:'k-xmcd-ime-0.594'}], {fs:12, yfmt:v=>v.toFixed(1)});
legend('fig1-legend', 1975, 407, 14, [
  {c:C.orange, label:k_legend[0]}, {c:C.blue, dash:D.b, label:k_legend[1]},
  {c:C.green, dash:D.g, label:k_legend[2]}, {c:C.magenta, dash:D.m, label:k_legend[3]}], 13);
txt('fig1-xas-y-title', 1806, 376, 'Fe <tspan font-style="italic">K</tspan> edge XAS&#160;&#160; [10<tspan dy="-6" font-size="10">-3</tspan><tspan dy="6"> Mb]</tspan>', 15, 'middle', true);
txt('fig1-xmcd-y-title', 1806, 618, 'Fe <tspan font-style="italic">K</tspan> edge XMCD&#160;&#160; [10<tspan dy="-6" font-size="10">-3</tspan><tspan dy="6"> Mb]</tspan>', 15, 'middle', true);
txt('fig1-x-title', 1971, 756, 'energy&#160;&#160; [eV]', 15, 'middle');

panel('fig2-xas-panel', [2209,80,2484,290], [-2,17], [0,15], ticks_x_L, ticks_y_Lxas, [
  {x:l_xas_E, y:l_xas_014, c:C.orange, name:'l-xas-ime-0.014'},
  {x:l_xas_E, y:l_xas_068, c:C.blue, dash:D.b, name:'l-xas-ime-0.068'},
  {x:l_xas_E, y:l_xas_136, c:C.green, dash:D.g, name:'l-xas-ime-0.136'},
  {x:l_xas_E, y:l_xas_204, c:C.magenta, dash:D.m, name:'l-xas-ime-0.204'}], {fs:11});
panel('fig2-xas-inset', [2309,103,2464,195], [-0.23,2.23], [0,15], ticks_x_in, ticks_y_inxas, [
  {x:l_in_xas_E, y:l_in_xas_014, c:C.orange, name:'l-xas-inset-0.014'},
  {x:l_in_xas_E, y:l_in_xas_068, c:C.blue, dash:D.b, name:'l-xas-inset-0.068'},
  {x:l_in_xas_E, y:l_in_xas_136, c:C.green, dash:D.g, name:'l-xas-inset-0.136'},
  {x:l_in_xas_E, y:l_in_xas_204, c:C.magenta, dash:D.m, name:'l-xas-inset-0.204'}], {fs:10, bg:true, tl:4});
panel('fig2-xmcd-panel', [2209,321,2484,531], [-2,17], [-8.1,4], ticks_x_L, ticks_y_Lmcd, [
  {x:l_mcd_E, y:l_mcd_014, c:C.orange, name:'l-xmcd-ime-0.014'},
  {x:l_mcd_E, y:l_mcd_068, c:C.blue, dash:D.b, name:'l-xmcd-ime-0.068'},
  {x:l_mcd_E, y:l_mcd_136, c:C.green, dash:D.g, name:'l-xmcd-ime-0.136'},
  {x:l_mcd_E, y:l_mcd_204, c:C.magenta, dash:D.m, name:'l-xmcd-ime-0.204'}], {fs:11});
panel('fig2-xmcd-inset', [2305,408,2461,500], [-0.24,2.25], [-7.8,0.45], ticks_x_in, ticks_y_inmcd, [
  {x:l_in_mcd_E, y:l_in_mcd_014, c:C.orange, name:'l-xmcd-inset-0.014'},
  {x:l_in_mcd_E, y:l_in_mcd_068, c:C.blue, dash:D.b, name:'l-xmcd-inset-0.068'},
  {x:l_in_mcd_E, y:l_in_mcd_136, c:C.green, dash:D.g, name:'l-xmcd-inset-0.136'},
  {x:l_in_mcd_E, y:l_in_mcd_204, c:C.magenta, dash:D.m, name:'l-xmcd-inset-0.204'}], {fs:10, bg:true, tl:4});
legend('fig2-legend', 2232, 332, 14.3, [
  {c:C.orange, label:l_legend[0]}, {c:C.blue, dash:D.b, label:l_legend[1]},
  {c:C.green, dash:D.g, label:l_legend[2]}, {c:C.magenta, dash:D.m, label:l_legend[3]}], 12);
txt('fig2-xas-y-title', 2181, 185, 'Fe <tspan font-style="italic">L</tspan><tspan font-size="10" dy="4">2,3</tspan><tspan dy="-4"> edge XAS&#160;&#160;&#160; [Mb]</tspan>', 15, 'middle', true);
txt('fig2-xmcd-y-title', 2181, 426, 'Fe <tspan font-style="italic">L</tspan><tspan font-size="10" dy="4">2,3</tspan><tspan dy="-4"> edge XMCD&#160;&#160;&#160; [Mb]</tspan>', 15, 'middle', true);
txt('fig2-x-title', 2346, 563, 'energy&#160;&#160; [eV]', 15, 'middle');

const KD = {k1m:'9,4,2,4', k1p:'4,3', m32:'5,3,1,3', m12:'none', p12:'10,5', p32:'6,3,1,3,1,3'};
function kmFig(tag, x0, x1, xas, mcd, imeLabel, ylx){
  panel(tag+'-xas-panel', [x0,80,x1,290], [-2,17], [0,7], ticks_x_L, ticks_y_kmxas, [
    {x:km_E2, y:xas[4], c:C.blue, dash:KD.k1p, name:tag+'-xas-k1-mu+1/2'},
    {x:km_E2, y:xas[5], c:C.red, dash:KD.k1m, name:tag+'-xas-k1-mu-1/2'},
    {x:km_E, y:xas[0], c:C.orange, dash:KD.m32, name:tag+'-xas-k-2-mu-3/2'},
    {x:km_E, y:xas[1], c:C.cyan, w:2.4, name:tag+'-xas-k-2-mu-1/2'},
    {x:km_E, y:xas[2], c:C.green, dash:KD.p12, name:tag+'-xas-k-2-mu+1/2'},
    {x:km_E, y:xas[3], c:C.purple, dash:KD.p32, name:tag+'-xas-k-2-mu+3/2'}], {fs:11});
  panel(tag+'-xmcd-panel', [x0,321,x1,531], [-2,17], [-11.4,6], ticks_x_L, ticks_y_kmmcd, [
    {x:[-2,17], y:[0,0], c:'#3344cc', w:1.2, name:tag+'-zero-line'},
    {x:km_E2, y:mcd[4], c:C.blue, dash:KD.k1p, name:tag+'-xmcd-k1-mu+1/2'},
    {x:km_E2, y:mcd[5], c:C.red, dash:KD.k1m, name:tag+'-xmcd-k1-mu-1/2'},
    {x:km_E, y:mcd[0], c:C.orange, dash:KD.m32, name:tag+'-xmcd-k-2-mu-3/2'},
    {x:km_E, y:mcd[1], c:C.cyan, w:2.4, name:tag+'-xmcd-k-2-mu-1/2'},
    {x:km_E, y:mcd[2], c:C.green, dash:KD.p12, name:tag+'-xmcd-k-2-mu+1/2'},
    {x:km_E, y:mcd[3], c:C.purple, dash:KD.p32, name:tag+'-xmcd-k-2-mu+3/2'}], {fs:11});
  txt(tag+'-ime-label', x0+115, 177, imeLabel, 20);
  legend(tag+'-legend-k1', x0+85, 344, 18, [
    {c:C.red, dash:KD.k1m, label:km_legend_k1[0]}, {c:C.blue, dash:KD.k1p, label:km_legend_k1[1]}], 14);
  legend(tag+'-legend-k2', x0+104, 451, 17.5, [
    {c:C.orange, dash:KD.m32, label:km_legend_k2[0]}, {c:C.cyan, w:2.4, label:km_legend_k2[1]},
    {c:C.green, dash:KD.p12, label:km_legend_k2[2]}, {c:C.purple, dash:KD.p32, label:km_legend_k2[3]}], 14);
  txt(tag+'-xas-y-title', ylx, 185, 'Fe <tspan font-style="italic">L</tspan><tspan font-size="10" dy="4">2,3</tspan><tspan dy="-4"> edge XAS&#160;&#160;&#160; [Mb]</tspan>', 15, 'middle', true);
  txt(tag+'-xmcd-y-title', ylx, 426, 'Fe <tspan font-style="italic">L</tspan><tspan font-size="10" dy="4">2,3</tspan><tspan dy="-4"> edge XMCD&#160;&#160;&#160; [Mb]</tspan>', 15, 'middle', true);
  txt(tag+'-x-title', x0+138, 563, 'energy&#160;&#160; [eV]', 15, 'middle');
}
kmFig('fig3', 2682, 2957, [f3_xas_m32,f3_xas_m12,f3_xas_p12,f3_xas_p32,f3_xas_k1p,f3_xas_k1m],
  [f3_mcd_m32,f3_mcd_m12,f3_mcd_p12,f3_mcd_p32,f3_mcd_k1p,f3_mcd_k1m], 'ImE = 0.204 eV', 2658);
kmFig('fig4', 3057, 3332, [f4_xas_m32,f4_xas_m12,f4_xas_p12,f4_xas_p32,f4_xas_k1p,f4_xas_k1m],
  [f4_mcd_m32,f4_mcd_m12,f4_mcd_p12,f4_mcd_p32,f4_mcd_k1p,f4_mcd_k1m], 'ImE = 0.014 eV', 3033);
</script>
</body></html>
